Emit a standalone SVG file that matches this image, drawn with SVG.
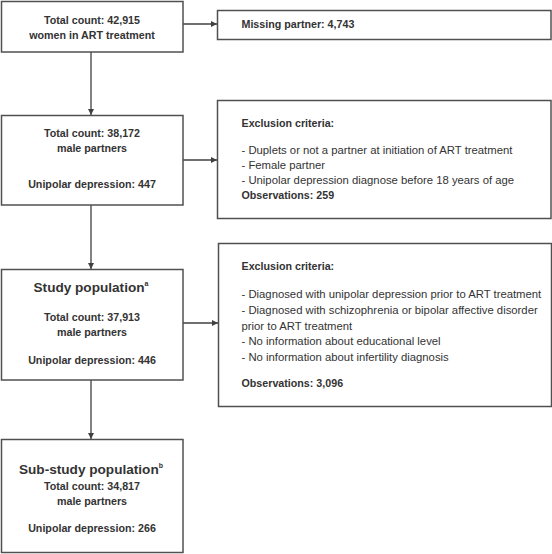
<svg xmlns="http://www.w3.org/2000/svg" width="552" height="554" viewBox="0 0 552 554">
<style>
  .box{fill:#fff;stroke:#505050;stroke-width:1.5}
  text{font-family:"Liberation Sans",Arial,sans-serif;fill:#333}
  .b{font-weight:bold;font-size:10.7px}
  .c{text-anchor:middle}
  .r{font-size:11.3px}
  .t{font-weight:bold;font-size:13.6px}
  .sup{font-weight:bold;font-size:7px}
  .conn{stroke:#404040;stroke-width:1.3;fill:none;marker-end:url(#ah)}
</style>
<defs>
  <marker id="ah" viewBox="0 0 10 10" refX="10" refY="5" markerWidth="7" markerHeight="6" markerUnits="userSpaceOnUse" orient="auto">
    <path d="M0,0 L10,5 L0,10 z" fill="#404040"/>
  </marker>
</defs>
<rect width="552" height="554" fill="#fff"/>
<g id="connectors">
  <line class="conn" x1="183" y1="24" x2="217" y2="24"/>
  <line class="conn" x1="91" y1="52" x2="91" y2="115"/>
  <line class="conn" x1="183" y1="160" x2="217" y2="160"/>
  <line class="conn" x1="91" y1="205" x2="91" y2="269"/>
  <line class="conn" x1="183" y1="323" x2="218" y2="323"/>
  <line class="conn" x1="91" y1="380" x2="91" y2="439"/>
</g>
<g id="n1">
  <rect class="box" x="1.5" y="1.5" width="181.5" height="50.5"/>
  <text class="b c" x="92" y="24">Total count: 42,915</text>
  <text class="b c" x="92" y="39">women in ART treatment</text>
</g>
<g id="n2">
  <rect class="box" x="217.5" y="10.5" width="333.5" height="29"/>
  <text class="b" x="241.5" y="28">Missing partner: 4,743</text>
</g>
<g id="n3">
  <rect class="box" x="1.5" y="115.5" width="181.5" height="89.5"/>
  <text class="b c" x="92" y="137">Total count: 38,172</text>
  <text class="b c" x="92" y="152">male partners</text>
  <text class="b c" x="92" y="188">Unipolar depression: 447</text>
</g>
<g id="n4">
  <rect class="box" x="217.5" y="100.5" width="333.5" height="118"/>
  <text class="b" x="241.5" y="127">Exclusion criteria:</text>
  <text class="r" x="241.5" y="154">- Duplets or not a partner at initiation of ART treatment</text>
  <text class="r" x="241.5" y="169">- Female partner</text>
  <text class="r" x="241.5" y="184">- Unipolar depression diagnose before 18 years of age</text>
  <text class="b" x="241.5" y="199">Observations: 259</text>
</g>
<g id="n5">
  <rect class="box" x="1.5" y="269.5" width="181.5" height="110.5"/>
  <text class="t c" x="91" y="292">Study population<tspan class="sup" dy="-6">a</tspan></text>
  <text class="b c" x="92" y="321">Total count: 37,913</text>
  <text class="b c" x="92" y="336">male partners</text>
  <text class="b c" x="92" y="364">Unipolar depression: 446</text>
</g>
<g id="n6">
  <rect class="box" x="218.5" y="243.5" width="333" height="163"/>
  <text class="b" x="241.5" y="270">Exclusion criteria:</text>
  <text class="r" x="241.5" y="298">- Diagnosed with unipolar depression prior to ART treatment</text>
  <text class="r" x="241.5" y="314">- Diagnosed with schizophrenia or bipolar affective disorder</text>
  <text class="r" x="241.5" y="330">prior to ART treatment</text>
  <text class="r" x="241.5" y="345">- No information about educational level</text>
  <text class="r" x="241.5" y="361">- No information about infertility diagnosis</text>
  <text class="b" x="241.5" y="387">Observations: 3,096</text>
</g>
<g id="n7">
  <rect class="box" x="1.5" y="439.5" width="181.5" height="113"/>
  <text class="t c" x="91" y="474">Sub-study population<tspan class="sup" dy="-6">b</tspan></text>
  <text class="b c" x="92" y="490">Total count: 34,817</text>
  <text class="b c" x="92" y="505">male partners</text>
  <text class="b c" x="92" y="532">Unipolar depression: 266</text>
</g>
</svg>
